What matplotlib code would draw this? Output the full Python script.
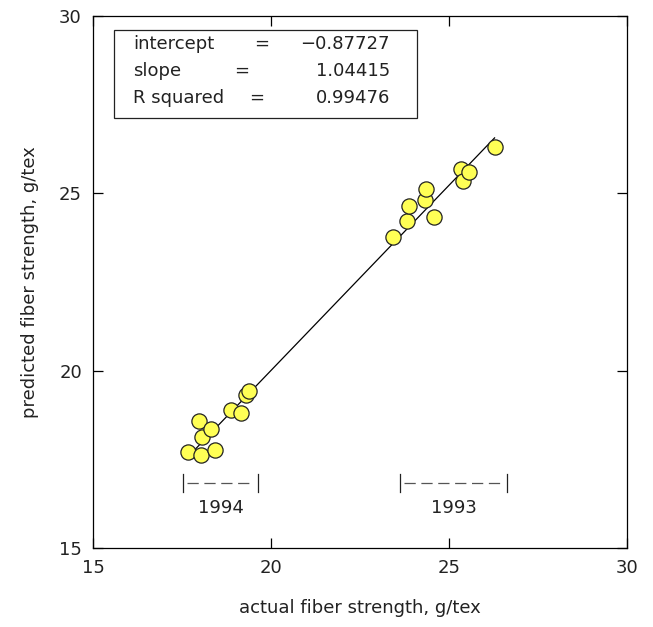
import matplotlib
matplotlib.use("Agg")
import matplotlib.pyplot as plt
import numpy as np

actual = [17.67, 18.04, 18.42, 17.99, 18.06, 18.32, 18.88, 19.15, 19.30, 19.37,
          23.44, 23.81, 23.88, 24.32, 24.35, 24.59, 25.35, 25.40, 25.57, 26.28]
predicted = [17.72, 17.62, 17.76, 18.58, 18.14, 18.35, 18.89, 18.80, 19.32, 19.43,
             23.76, 24.22, 24.65, 24.81, 25.12, 24.34, 25.69, 25.35, 25.60, 26.32]
intercept = -0.87727
slope = 1.04415
r_squared = 0.99476
year_labels = ["1994", "1993"]
year_ranges = [(17.53, 19.63), (23.62, 26.63)]

plt.rcParams['font.family'] = ['DejaVu Sans']
fig = plt.figure(figsize=(6.53, 6.27), dpi=100)
ax = fig.add_axes([0.1424, 0.126, 0.8178, 0.8485])
tc = '#222222'

xs = np.array([min(actual), max(actual)])
ax.plot(xs, intercept + slope * xs, color='black', lw=0.9, zorder=2)
ax.scatter(actual, predicted, s=120, facecolor='#ffff55', edgecolor='#222222',
           linewidth=0.9, zorder=3)

ax.set_xlim(15, 30)
ax.set_ylim(15, 30)
ax.set_xticks([15, 20, 25, 30])
ax.set_yticks([15, 20, 25, 30])
ax.tick_params(direction='in', length=7, width=0.9, top=True, right=True,
               labelsize=13, labelcolor=tc, pad=8)
for s in ax.spines.values():
    s.set_linewidth(0.9)
ax.set_xlabel('actual fiber strength, g/tex', fontsize=13, color=tc, labelpad=16)
ax.set_ylabel('predicted fiber strength, g/tex', fontsize=13, color=tc, labelpad=14)

# stats box
from matplotlib.patches import Rectangle
ax.add_patch(Rectangle((15.59, 27.12), 24.10 - 15.59, 29.61 - 27.12,
                       facecolor='white', edgecolor='#222222', lw=0.9, zorder=4))
rows = [("intercept", "=", "\u22120.87727", 262),
        ("slope", "=", "1.04415", 242),
        ("R squared", "=", "0.99476", 257)]
ypix = [44, 71, 98]
for (lab, eq, val, eqx), yp in zip(rows, ypix):
    yd = 30 - (yp - 16) / 35.47
    ax.text(15 + (133 - 93) / 35.6, yd, lab, fontsize=13, color=tc, va='center', zorder=5)
    ax.text(15 + (eqx - 93) / 35.6, yd, eq, fontsize=13, color=tc, va='center', ha='center', zorder=5)
    ax.text(15 + (390 - 93) / 35.6, yd, val, fontsize=13, color=tc, va='center', ha='right', zorder=5)

# year brackets
for lab, (x0, x1) in zip(year_labels, year_ranges):
    pad = 0.12
    ax.plot([x0 + pad, x1 - pad], [16.83, 16.83], color='#555555', lw=0.9, ls=(0, (9, 4.5)))
    ax.plot([x0, x0], [16.58, 17.08], color='#222222', lw=0.9)
    ax.plot([x1, x1], [16.58, 17.08], color='#222222', lw=0.9)
    ax.text((x0 + x1) / 2, 16.13, lab, fontsize=13, color=tc, ha='center', va='center')

fig.savefig('out.png', dpi=100)
